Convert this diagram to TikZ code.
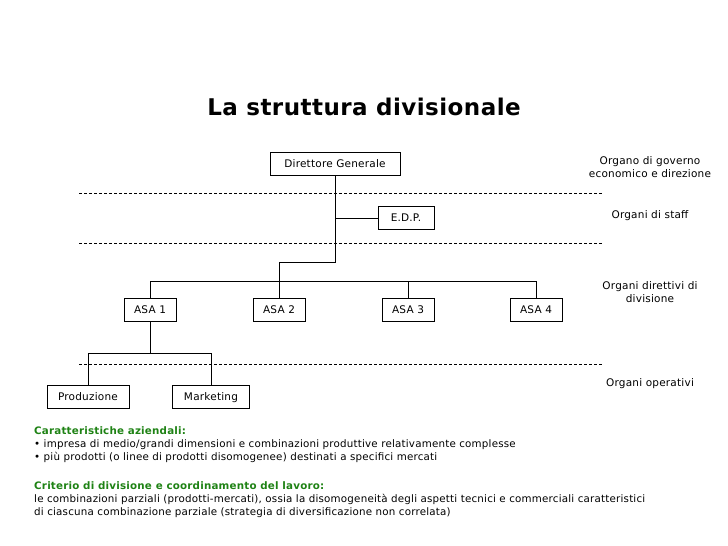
\documentclass[tikz,border=0pt]{standalone}
\usepackage{fontspec}
\setmainfont{DejaVu Sans}[LetterSpace=2]
\newfontfamily\ttl{DejaVu Sans}[LetterSpace=2]
\definecolor{grn}{RGB}{30,130,20}
\begin{document}
\begin{tikzpicture}[x=1pt,y=-1pt,
 box/.style={draw,line width=0.8pt,inner sep=0pt,minimum height=23pt,text depth=2pt,text height=8pt,font=\fontsize{10.5}{12}\selectfont},
 lbl/.style={align=center,font=\fontsize{10.5}{13}\selectfont},
 dl/.style={dashed,line width=0.5pt,dash pattern=on 3pt off 2pt},
 ln/.style={line width=0.8pt}]
\useasboundingbox (0,0) rectangle (728,546);
\node[font=\ttl\bfseries\fontsize{23}{26}\selectfont] (title) at (364,107) {La struttura divisionale};
\node[box,minimum width=130pt] (dg) at (335,164) {Direttore Generale};
\node[box,minimum width=56pt] (edp) at (406,218) {E.D.P.};
\node[box,minimum width=52pt] (a1) at (150,310) {ASA 1};
\node[box,minimum width=52pt] (a2) at (279,310) {ASA 2};
\node[box,minimum width=52pt] (a3) at (408,310) {ASA 3};
\node[box,minimum width=52pt] (a4) at (536,310) {ASA 4};
\node[box,minimum width=82pt] (pr) at (88,397) {Produzione};
\node[box,minimum width=77pt] (mk) at (211,397) {Marketing};
\coordinate (d1a) at (79,193); \coordinate (d1b) at (602,193);
\coordinate (d2a) at (79,243); \coordinate (d2b) at (602,243);
\coordinate (d3a) at (79,364); \coordinate (d3b) at (602,364);
\draw[dl] (d1a) -- (d1b); \draw[dl] (d2a) -- (d2b); \draw[dl] (d3a) -- (d3b);
\draw[ln] (dg.south) |- (279,262) -- (a2.north);
\draw[ln] (dg.south |- edp) -- (edp.west);
\draw[ln] (a1.north) |- (a4.north |- 0,281) -- (a4.north);
\draw[ln] (a3.north) -- (a3.north |- 0,281);
\draw[ln] (a1.south) -- (150,353);
\draw[ln] (pr.north) |- (mk.north |- 0,353) -- (mk.north);
\node[lbl] (l1) at (650,167) {Organo di governo\\economico e direzione};
\node[lbl] (l2) at (650,216) {Organi di staff};
\node[lbl] (l3) at (650,292) {Organi direttivi di\\divisione};
\node[lbl] (l4) at (650,384) {Organi operativi};
\node[anchor=north west,align=left,font=\fontsize{10.3}{13}\selectfont,inner sep=0pt] (t1) at (34,426)
 {\textcolor{grn}{\bfseries Caratteristiche aziendali:}\\
 • impresa di medio/grandi dimensioni e combinazioni produttive relativamente complesse\\
 • più prodotti (o linee di prodotti disomogenee) destinati a specifici mercati};
\node[anchor=north west,align=left,font=\fontsize{10.3}{13}\selectfont,inner sep=0pt] (t2) at (34,481)
 {\textcolor{grn}{\bfseries Criterio di divisione e coordinamento del lavoro:}\\
 le combinazioni parziali (prodotti-mercati), ossia la disomogeneità degli aspetti tecnici e commerciali caratteristici\\
 di ciascuna combinazione parziale (strategia di diversificazione non correlata)};
\end{tikzpicture}
\end{document}
